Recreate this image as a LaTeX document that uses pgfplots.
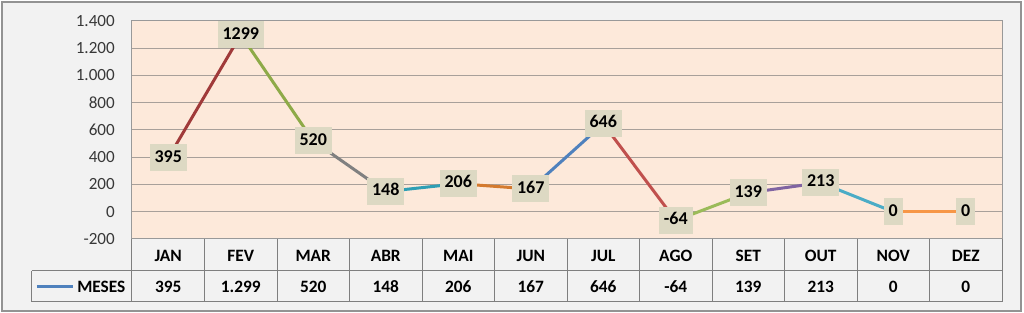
\documentclass[border=0pt]{standalone}
\usepackage{pgfplots}
\usepackage{pgfplotstable}
\pgfplotsset{compat=1.18}
\usepackage{fontspec}
\setmainfont{Carlito}
\newlength\px \setlength\px{0.75pt}
\definecolor{framebg}{HTML}{F2F2F2}
\definecolor{plotbg}{HTML}{FDE9DA}
\definecolor{labfill}{HTML}{DDD9C3}
\definecolor{gridc}{HTML}{A8A09A}
\definecolor{tabc}{HTML}{7F7F7F}
\definecolor{c1}{HTML}{A03A3A}
\definecolor{c2}{HTML}{8EAA48}
\definecolor{c3}{HTML}{808080}
\definecolor{c4}{HTML}{2E9FB5}
\definecolor{c5}{HTML}{D47A2E}
\definecolor{c6}{HTML}{4F81BD}
\definecolor{c7}{HTML}{C0504D}
\definecolor{c8}{HTML}{9BBB59}
\definecolor{c9}{HTML}{8064A2}
\definecolor{c10}{HTML}{4BACC6}
\definecolor{c11}{HTML}{F79646}
\definecolor{legc}{HTML}{4F81BD}
\pgfplotstableread{
x y lab txt
0 395 395 395
1 1299 1299 1.299
2 520 520 520
3 148 148 148
4 206 206 206
5 167 167 167
6 646 646 646
7 -64 -64 -64
8 139 139 139
9 213 213 213
10 0 0 0
11 0 0 0
}\data
\pgfplotstableread{
x y txt
0 -200 395
1 -200 1.299
2 -200 520
3 -200 148
4 -200 206
5 -200 167
6 -200 646
7 -200 -64
8 -200 139
9 -200 213
10 -200 0
11 -200 0
}\tabrow
\begin{document}
\begin{tikzpicture}
\useasboundingbox (-132\px,-74\px) rectangle (892\px,239\px);
\draw[fill=framebg, draw=gray!85, line width=1.5\px] (-130\px,-72\px) rectangle (889\px,237\px);
\begin{axis}[
  at={(0,0)}, anchor=south west,
  scale only axis, width=870\px, height=218\px,
  xmin=-0.5, xmax=11.5, ymin=-200, ymax=1400,
  ytick={-200,0,...,1400},
  xtick={0,...,11},
  xticklabels={JAN,FEV,MAR,ABR,MAI,JUN,JUL,AGO,SET,OUT,NOV,DEZ},
  major tick length=0pt,
  xticklabel style={anchor=base, yshift=-23\px, inner sep=0pt, font=\bfseries\fontsize{13}{13}\selectfont, text=black},
  yticklabel style={anchor=east, inner sep=0pt, xshift=-17\px, font=\fontsize{12.8}{13}\selectfont, text=black!78},
  /pgf/number format/.cd, 1000 sep={.}, assume math mode=true, /pgfplots/.cd,
  ymajorgrids, grid style={gridc, line width=1\px},
  axis line style={draw=gray!80, line width=1\px},
  axis background/.style={fill=plotbg},
  clip=false,
]
\addplot[c1, line width=3\px] coordinates {(0,395) (1,1299)};
\addplot[c2, line width=3\px] coordinates {(1,1299) (2,520)};
\addplot[c3, line width=3\px] coordinates {(2,520) (3,148)};
\addplot[c4, line width=3\px] coordinates {(3,148) (4,206)};
\addplot[c5, line width=3\px] coordinates {(4,206) (5,167)};
\addplot[c6, line width=3\px] coordinates {(5,167) (6,646)};
\addplot[c7, line width=3\px] coordinates {(6,646) (7,-64)};
\addplot[c8, line width=3\px] coordinates {(7,-64) (8,139)};
\addplot[c9, line width=3\px] coordinates {(8,139) (9,213)};
\addplot[c10, line width=3\px] coordinates {(9,213) (10,0)};
\addplot[c11, line width=3\px] coordinates {(10,0) (11,0)};
\addplot[draw=none, no marks, nodes near coords, point meta=explicit symbolic,
  nodes near coords style={anchor=center, fill=labfill, inner xsep=5\px, inner ysep=0pt, minimum height=27\px, text height=0.64em, text depth=0pt, font=\bfseries\fontsize{13.5}{13.5}\selectfont, text=black}]
  table[x=x, y=y, meta=lab] {\data};
\addplot[draw=none, no marks, nodes near coords, point meta=explicit symbolic,
  nodes near coords style={anchor=base, yshift=-54\px, inner sep=0pt, font=\bfseries\fontsize{13}{13}\selectfont, text=black}]
  table[x=x, y=y, meta=txt] {\tabrow};
\end{axis}
\foreach \k in {0,...,12} \draw[tabc, line width=1\px] (\k*72.5\px,0) -- (\k*72.5\px,-63\px);
\draw[tabc, line width=1\px] (-100\px,-32\px) -- (870\px,-32\px);
\draw[tabc, line width=1\px] (-100\px,-63\px) -- (870\px,-63\px);
\draw[tabc, line width=1\px] (-100\px,-32\px) -- (-100\px,-63\px);
\draw[legc, line width=3\px] (-95\px,-47.5\px) -- (-59\px,-47.5\px);
\node[anchor=base west, inner sep=0pt, font=\bfseries\fontsize{13}{13}\selectfont] at (-55\px,-54\px) {MESES};
\end{tikzpicture}
\end{document}
